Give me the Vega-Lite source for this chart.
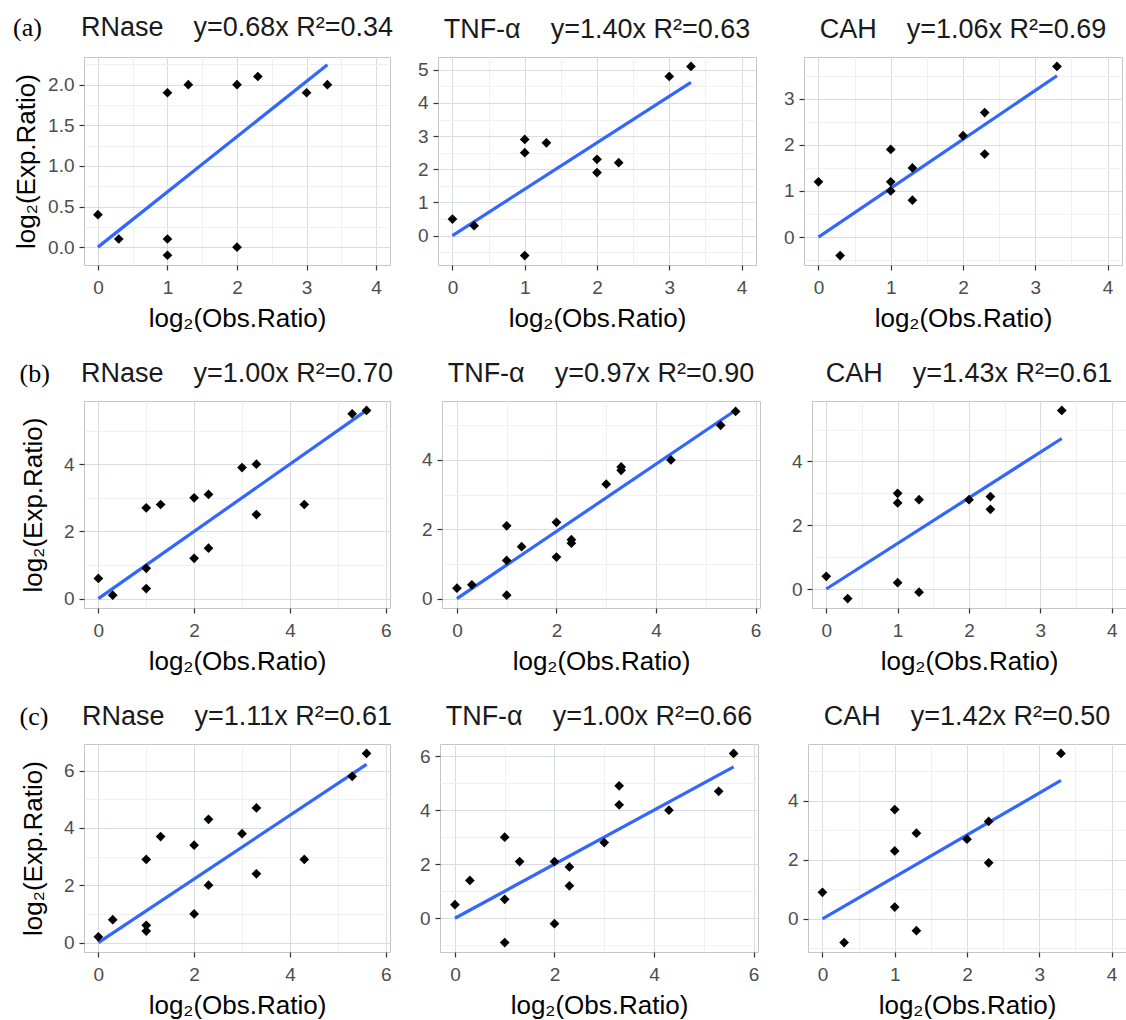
{
  "$schema": "https://vega.github.io/schema/vega-lite/v6.json",
  "padding": {"left": 13, "top": 13, "right": 2, "bottom": 1},
  "background": "white",
  "datasets": {
    "pts": [
      {"p": "a1", "x": 0, "y": 0.4}, {"p": "a1", "x": 0.3, "y": 0.1}, {"p": "a1", "x": 1, "y": 1.9}, {"p": "a1", "x": 1, "y": 0.1}, {"p": "a1", "x": 1, "y": -0.1}, {"p": "a1", "x": 1.3, "y": 2.0}, {"p": "a1", "x": 2, "y": 2.0}, {"p": "a1", "x": 2, "y": 0.0}, {"p": "a1", "x": 2.3, "y": 2.1}, {"p": "a1", "x": 3, "y": 1.9}, {"p": "a1", "x": 3.3, "y": 2.0},
      {"p": "a2", "x": 0, "y": 0.5}, {"p": "a2", "x": 0.3, "y": 0.3}, {"p": "a2", "x": 1, "y": 2.9}, {"p": "a2", "x": 1, "y": 2.5}, {"p": "a2", "x": 1, "y": -0.6}, {"p": "a2", "x": 1.3, "y": 2.8}, {"p": "a2", "x": 2, "y": 2.3}, {"p": "a2", "x": 2, "y": 1.9}, {"p": "a2", "x": 2.3, "y": 2.2}, {"p": "a2", "x": 3, "y": 4.8}, {"p": "a2", "x": 3.3, "y": 5.1},
      {"p": "a3", "x": 0, "y": 1.2}, {"p": "a3", "x": 0.3, "y": -0.4}, {"p": "a3", "x": 1, "y": 1.9}, {"p": "a3", "x": 1, "y": 1.2}, {"p": "a3", "x": 1, "y": 1.0}, {"p": "a3", "x": 1.3, "y": 1.5}, {"p": "a3", "x": 1.3, "y": 0.8}, {"p": "a3", "x": 2, "y": 2.2}, {"p": "a3", "x": 2.3, "y": 2.7}, {"p": "a3", "x": 2.3, "y": 1.8}, {"p": "a3", "x": 3.3, "y": 3.7},
      {"p": "b1", "x": 0, "y": 0.6}, {"p": "b1", "x": 0.3, "y": 0.1}, {"p": "b1", "x": 1, "y": 2.7}, {"p": "b1", "x": 1, "y": 0.9}, {"p": "b1", "x": 1, "y": 0.3}, {"p": "b1", "x": 1.3, "y": 2.8}, {"p": "b1", "x": 2, "y": 3.0}, {"p": "b1", "x": 2, "y": 1.2}, {"p": "b1", "x": 2.3, "y": 3.1}, {"p": "b1", "x": 2.3, "y": 1.5}, {"p": "b1", "x": 3, "y": 3.9}, {"p": "b1", "x": 3.3, "y": 4.0}, {"p": "b1", "x": 3.3, "y": 2.5}, {"p": "b1", "x": 4.3, "y": 2.8}, {"p": "b1", "x": 5.3, "y": 5.5}, {"p": "b1", "x": 5.6, "y": 5.6},
      {"p": "b2", "x": 0, "y": 0.3}, {"p": "b2", "x": 0.3, "y": 0.4}, {"p": "b2", "x": 1, "y": 2.1}, {"p": "b2", "x": 1, "y": 1.1}, {"p": "b2", "x": 1, "y": 0.1}, {"p": "b2", "x": 1.3, "y": 1.5}, {"p": "b2", "x": 2, "y": 2.2}, {"p": "b2", "x": 2, "y": 1.2}, {"p": "b2", "x": 2.3, "y": 1.7}, {"p": "b2", "x": 2.3, "y": 1.6}, {"p": "b2", "x": 3, "y": 3.3}, {"p": "b2", "x": 3.3, "y": 3.8}, {"p": "b2", "x": 3.3, "y": 3.7}, {"p": "b2", "x": 4.3, "y": 4.0}, {"p": "b2", "x": 5.3, "y": 5.0}, {"p": "b2", "x": 5.6, "y": 5.4},
      {"p": "b3", "x": 0, "y": 0.4}, {"p": "b3", "x": 0.3, "y": -0.3}, {"p": "b3", "x": 1, "y": 3.0}, {"p": "b3", "x": 1, "y": 2.7}, {"p": "b3", "x": 1, "y": 0.2}, {"p": "b3", "x": 1.3, "y": 2.8}, {"p": "b3", "x": 1.3, "y": -0.1}, {"p": "b3", "x": 2, "y": 2.8}, {"p": "b3", "x": 2.3, "y": 2.9}, {"p": "b3", "x": 2.3, "y": 2.5}, {"p": "b3", "x": 3.3, "y": 5.6},
      {"p": "c1", "x": 0, "y": 0.2}, {"p": "c1", "x": 0.3, "y": 0.8}, {"p": "c1", "x": 1, "y": 2.9}, {"p": "c1", "x": 1, "y": 0.6}, {"p": "c1", "x": 1, "y": 0.4}, {"p": "c1", "x": 1.3, "y": 3.7}, {"p": "c1", "x": 2, "y": 3.4}, {"p": "c1", "x": 2, "y": 1.0}, {"p": "c1", "x": 2.3, "y": 4.3}, {"p": "c1", "x": 2.3, "y": 2.0}, {"p": "c1", "x": 3, "y": 3.8}, {"p": "c1", "x": 3.3, "y": 4.7}, {"p": "c1", "x": 3.3, "y": 2.4}, {"p": "c1", "x": 4.3, "y": 2.9}, {"p": "c1", "x": 5.3, "y": 5.8}, {"p": "c1", "x": 5.6, "y": 6.6},
      {"p": "c2", "x": 0, "y": 0.5}, {"p": "c2", "x": 0.3, "y": 1.4}, {"p": "c2", "x": 1, "y": 3.0}, {"p": "c2", "x": 1, "y": 0.7}, {"p": "c2", "x": 1, "y": -0.9}, {"p": "c2", "x": 1.3, "y": 2.1}, {"p": "c2", "x": 2, "y": 2.1}, {"p": "c2", "x": 2, "y": -0.2}, {"p": "c2", "x": 2.3, "y": 1.9}, {"p": "c2", "x": 2.3, "y": 1.2}, {"p": "c2", "x": 3, "y": 2.8}, {"p": "c2", "x": 3.3, "y": 4.9}, {"p": "c2", "x": 3.3, "y": 4.2}, {"p": "c2", "x": 4.3, "y": 4.0}, {"p": "c2", "x": 5.3, "y": 4.7}, {"p": "c2", "x": 5.6, "y": 6.1},
      {"p": "c3", "x": 0, "y": 0.9}, {"p": "c3", "x": 0.3, "y": -0.8}, {"p": "c3", "x": 1, "y": 3.7}, {"p": "c3", "x": 1, "y": 2.3}, {"p": "c3", "x": 1, "y": 0.4}, {"p": "c3", "x": 1.3, "y": 2.9}, {"p": "c3", "x": 1.3, "y": -0.4}, {"p": "c3", "x": 2, "y": 2.7}, {"p": "c3", "x": 2.3, "y": 3.3}, {"p": "c3", "x": 2.3, "y": 1.9}, {"p": "c3", "x": 3.3, "y": 5.6}
    ],
    "fit": [
      {"p": "a1", "x": 0, "y": 0}, {"p": "a1", "x": 3.3, "y": 2.244},
      {"p": "a2", "x": 0, "y": 0}, {"p": "a2", "x": 3.3, "y": 4.62},
      {"p": "a3", "x": 0, "y": 0}, {"p": "a3", "x": 3.3, "y": 3.498},
      {"p": "b1", "x": 0, "y": 0}, {"p": "b1", "x": 5.6, "y": 5.6},
      {"p": "b2", "x": 0, "y": 0}, {"p": "b2", "x": 5.6, "y": 5.432},
      {"p": "b3", "x": 0, "y": 0}, {"p": "b3", "x": 3.3, "y": 4.719},
      {"p": "c1", "x": 0, "y": 0}, {"p": "c1", "x": 5.6, "y": 6.216},
      {"p": "c2", "x": 0, "y": 0}, {"p": "c2", "x": 5.6, "y": 5.6},
      {"p": "c3", "x": 0, "y": 0}, {"p": "c3", "x": 3.3, "y": 4.686}
    ]
  },
  "vconcat": [
    {
      "bounds": "flush",
      "spacing": 48,
      "title": {"text": "(a)", "anchor": "start", "frame": "bounds", "font": "Liberation Serif", "fontSize": 26, "offset": -27, "color": "#000000"},
      "hconcat": [
        {
          "width": 306, "height": 208,
          "title": {"text": "RNase\u00a0\u00a0\u00a0 y=0.68x R²=0.34"},
          "encoding": {
            "x": {"field": "x", "type": "quantitative", "scale": {"domain": [-0.2, 4.2], "nice": false, "zero": false},
              "axis": {"title": "log₂(Obs.Ratio)", "format": ".0f", "values": [0, 0.5, 1, 1.5, 2, 2.5, 3, 3.5, 4], "labelExpr": "datum.value % 1 === 0 ? datum.label : ''",
                "gridColor": {"condition": {"test": "datum.value % 1 !== 0", "value": "#eef0f3"}, "value": "#d9dce3"},
                "tickOpacity": {"condition": {"test": "datum.value % 1 !== 0", "value": 0}, "value": 1}}},
            "y": {"field": "y", "type": "quantitative", "scale": {"domain": [-0.22, 2.34], "nice": false, "zero": false},
              "axis": {"title": "log₂(Exp.Ratio)", "format": ".1f", "values": [0, 0.25, 0.5, 0.75, 1, 1.25, 1.5, 1.75, 2, 2.25], "labelExpr": "datum.value % 0.5 === 0 ? datum.label : ''",
                "gridColor": {"condition": {"test": "datum.value % 0.5 !== 0", "value": "#eef0f3"}, "value": "#d9dce3"},
                "tickOpacity": {"condition": {"test": "datum.value % 0.5 !== 0", "value": 0}, "value": 1}}}
          },
          "layer": [
            {"data": {"name": "fit"}, "transform": [{"filter": "datum.p === 'a1'"}], "mark": {"type": "line", "color": "#3366FF", "strokeWidth": 3.2}, "encoding": {}},
            {"data": {"name": "pts"}, "transform": [{"filter": "datum.p === 'a1'"}], "mark": {"type": "point", "shape": "diamond", "filled": true, "color": "#000000", "opacity": 1, "size": 95}}
          ]
        },
        {
          "width": 318, "height": 208,
          "title": {"text": "TNF-α\u00a0\u00a0\u00a0 y=1.40x R²=0.63"},
          "encoding": {
            "x": {"field": "x", "type": "quantitative", "scale": {"domain": [-0.2, 4.2], "nice": false, "zero": false},
              "axis": {"title": "log₂(Obs.Ratio)", "format": ".0f", "values": [0, 0.5, 1, 1.5, 2, 2.5, 3, 3.5, 4], "labelExpr": "datum.value % 1 === 0 ? datum.label : ''",
                "gridColor": {"condition": {"test": "datum.value % 1 !== 0", "value": "#eef0f3"}, "value": "#d9dce3"},
                "tickOpacity": {"condition": {"test": "datum.value % 1 !== 0", "value": 0}, "value": 1}}},
            "y": {"field": "y", "type": "quantitative", "scale": {"domain": [-0.885, 5.385], "nice": false, "zero": false},
              "axis": {"title": null, "format": ".0f", "values": [-0.5, 0, 0.5, 1, 1.5, 2, 2.5, 3, 3.5, 4, 4.5, 5], "labelExpr": "datum.value % 1 === 0 ? datum.label : ''",
                "gridColor": {"condition": {"test": "datum.value % 1 !== 0", "value": "#eef0f3"}, "value": "#d9dce3"},
                "tickOpacity": {"condition": {"test": "datum.value % 1 !== 0", "value": 0}, "value": 1}}}
          },
          "layer": [
            {"data": {"name": "fit"}, "transform": [{"filter": "datum.p === 'a2'"}], "mark": {"type": "line", "color": "#3366FF", "strokeWidth": 3.2}, "encoding": {}},
            {"data": {"name": "pts"}, "transform": [{"filter": "datum.p === 'a2'"}], "mark": {"type": "point", "shape": "diamond", "filled": true, "color": "#000000", "opacity": 1, "size": 95}}
          ]
        },
        {
          "width": 318, "height": 208,
          "title": {"text": "CAH\u00a0\u00a0\u00a0 y=1.06x R²=0.69"},
          "encoding": {
            "x": {"field": "x", "type": "quantitative", "scale": {"domain": [-0.2, 4.2], "nice": false, "zero": false},
              "axis": {"title": "log₂(Obs.Ratio)", "format": ".0f", "values": [0, 0.5, 1, 1.5, 2, 2.5, 3, 3.5, 4], "labelExpr": "datum.value % 1 === 0 ? datum.label : ''",
                "gridColor": {"condition": {"test": "datum.value % 1 !== 0", "value": "#eef0f3"}, "value": "#d9dce3"},
                "tickOpacity": {"condition": {"test": "datum.value % 1 !== 0", "value": 0}, "value": 1}}},
            "y": {"field": "y", "type": "quantitative", "scale": {"domain": [-0.605, 3.905], "nice": false, "zero": false},
              "axis": {"title": null, "format": ".0f", "values": [-0.5, 0, 0.5, 1, 1.5, 2, 2.5, 3, 3.5], "labelExpr": "datum.value % 1 === 0 ? datum.label : ''",
                "gridColor": {"condition": {"test": "datum.value % 1 !== 0", "value": "#eef0f3"}, "value": "#d9dce3"},
                "tickOpacity": {"condition": {"test": "datum.value % 1 !== 0", "value": 0}, "value": 1}}}
          },
          "layer": [
            {"data": {"name": "fit"}, "transform": [{"filter": "datum.p === 'a3'"}], "mark": {"type": "line", "color": "#3366FF", "strokeWidth": 3.2}, "encoding": {}},
            {"data": {"name": "pts"}, "transform": [{"filter": "datum.p === 'a3'"}], "mark": {"type": "point", "shape": "diamond", "filled": true, "color": "#000000", "opacity": 1, "size": 95}}
          ]
        }
      ]
    },
    {
      "bounds": "flush",
      "spacing": 52,
      "title": {"text": "(b)", "anchor": "start", "frame": "bounds", "font": "Liberation Serif", "fontSize": 26, "offset": -27, "color": "#000000"},
      "hconcat": [
        {
          "width": 306, "height": 207,
          "title": {"text": "RNase\u00a0\u00a0\u00a0 y=1.00x R²=0.70"},
          "encoding": {
            "x": {"field": "x", "type": "quantitative", "scale": {"domain": [-0.3, 6.09], "nice": false, "zero": false},
              "axis": {"title": "log₂(Obs.Ratio)", "format": ".0f", "values": [0, 1, 2, 3, 4, 5, 6], "labelExpr": "datum.value % 2 === 0 ? datum.label : ''",
                "gridColor": {"condition": {"test": "datum.value % 2 !== 0", "value": "#eef0f3"}, "value": "#d9dce3"},
                "tickOpacity": {"condition": {"test": "datum.value % 2 !== 0", "value": 0}, "value": 1}}},
            "y": {"field": "y", "type": "quantitative", "scale": {"domain": [-0.28, 5.88], "nice": false, "zero": false},
              "axis": {"title": "log₂(Exp.Ratio)", "minExtent": 30, "format": ".0f", "values": [0, 1, 2, 3, 4, 5], "labelExpr": "datum.value % 2 === 0 ? datum.label : ''",
                "gridColor": {"condition": {"test": "datum.value % 2 !== 0", "value": "#eef0f3"}, "value": "#d9dce3"},
                "tickOpacity": {"condition": {"test": "datum.value % 2 !== 0", "value": 0}, "value": 1}}}
          },
          "layer": [
            {"data": {"name": "fit"}, "transform": [{"filter": "datum.p === 'b1'"}], "mark": {"type": "line", "color": "#3366FF", "strokeWidth": 3.2}, "encoding": {}},
            {"data": {"name": "pts"}, "transform": [{"filter": "datum.p === 'b1'"}], "mark": {"type": "point", "shape": "diamond", "filled": true, "color": "#000000", "opacity": 1, "size": 95}}
          ]
        },
        {
          "width": 318, "height": 207,
          "title": {"text": "TNF-α\u00a0\u00a0\u00a0 y=0.97x R²=0.90"},
          "encoding": {
            "x": {"field": "x", "type": "quantitative", "scale": {"domain": [-0.3, 6.09], "nice": false, "zero": false},
              "axis": {"title": "log₂(Obs.Ratio)", "format": ".0f", "values": [0, 1, 2, 3, 4, 5, 6], "labelExpr": "datum.value % 2 === 0 ? datum.label : ''",
                "gridColor": {"condition": {"test": "datum.value % 2 !== 0", "value": "#eef0f3"}, "value": "#d9dce3"},
                "tickOpacity": {"condition": {"test": "datum.value % 2 !== 0", "value": 0}, "value": 1}}},
            "y": {"field": "y", "type": "quantitative", "scale": {"domain": [-0.27, 5.7], "nice": false, "zero": false},
              "axis": {"title": null, "format": ".0f", "values": [0, 1, 2, 3, 4, 5], "labelExpr": "datum.value % 2 === 0 ? datum.label : ''",
                "gridColor": {"condition": {"test": "datum.value % 2 !== 0", "value": "#eef0f3"}, "value": "#d9dce3"},
                "tickOpacity": {"condition": {"test": "datum.value % 2 !== 0", "value": 0}, "value": 1}}}
          },
          "layer": [
            {"data": {"name": "fit"}, "transform": [{"filter": "datum.p === 'b2'"}], "mark": {"type": "line", "color": "#3366FF", "strokeWidth": 3.2}, "encoding": {}},
            {"data": {"name": "pts"}, "transform": [{"filter": "datum.p === 'b2'"}], "mark": {"type": "point", "shape": "diamond", "filled": true, "color": "#000000", "opacity": 1, "size": 95}}
          ]
        },
        {
          "width": 314, "height": 207,
          "title": {"text": "CAH\u00a0\u00a0\u00a0 y=1.43x R²=0.61"},
          "encoding": {
            "x": {"field": "x", "type": "quantitative", "scale": {"domain": [-0.2, 4.2], "nice": false, "zero": false},
              "axis": {"title": "log₂(Obs.Ratio)", "format": ".0f", "values": [0, 0.5, 1, 1.5, 2, 2.5, 3, 3.5, 4], "labelExpr": "datum.value % 1 === 0 ? datum.label : ''",
                "gridColor": {"condition": {"test": "datum.value % 1 !== 0", "value": "#eef0f3"}, "value": "#d9dce3"},
                "tickOpacity": {"condition": {"test": "datum.value % 1 !== 0", "value": 0}, "value": 1}}},
            "y": {"field": "y", "type": "quantitative", "scale": {"domain": [-0.595, 5.895], "nice": false, "zero": false},
              "axis": {"title": null, "format": ".0f", "values": [0, 1, 2, 3, 4, 5], "labelExpr": "datum.value % 2 === 0 ? datum.label : ''",
                "gridColor": {"condition": {"test": "datum.value % 2 !== 0", "value": "#eef0f3"}, "value": "#d9dce3"},
                "tickOpacity": {"condition": {"test": "datum.value % 2 !== 0", "value": 0}, "value": 1}}}
          },
          "layer": [
            {"data": {"name": "fit"}, "transform": [{"filter": "datum.p === 'b3'"}], "mark": {"type": "line", "color": "#3366FF", "strokeWidth": 3.2}, "encoding": {}},
            {"data": {"name": "pts"}, "transform": [{"filter": "datum.p === 'b3'"}], "mark": {"type": "point", "shape": "diamond", "filled": true, "color": "#000000", "opacity": 1, "size": 95}}
          ]
        }
      ]
    },
    {
      "bounds": "flush",
      "spacing": 50,
      "title": {"text": "(c)", "anchor": "start", "frame": "bounds", "font": "Liberation Serif", "fontSize": 26, "offset": -27, "color": "#000000"},
      "hconcat": [
        {
          "width": 306, "height": 208,
          "title": {"text": "RNase\u00a0\u00a0\u00a0 y=1.11x R²=0.61"},
          "encoding": {
            "x": {"field": "x", "type": "quantitative", "scale": {"domain": [-0.3, 6.09], "nice": false, "zero": false},
              "axis": {"title": "log₂(Obs.Ratio)", "format": ".0f", "values": [0, 1, 2, 3, 4, 5, 6], "labelExpr": "datum.value % 2 === 0 ? datum.label : ''",
                "gridColor": {"condition": {"test": "datum.value % 2 !== 0", "value": "#eef0f3"}, "value": "#d9dce3"},
                "tickOpacity": {"condition": {"test": "datum.value % 2 !== 0", "value": 0}, "value": 1}}},
            "y": {"field": "y", "type": "quantitative", "scale": {"domain": [-0.33, 6.93], "nice": false, "zero": false},
              "axis": {"title": "log₂(Exp.Ratio)", "minExtent": 30, "format": ".0f", "values": [0, 1, 2, 3, 4, 5, 6], "labelExpr": "datum.value % 2 === 0 ? datum.label : ''",
                "gridColor": {"condition": {"test": "datum.value % 2 !== 0", "value": "#eef0f3"}, "value": "#d9dce3"},
                "tickOpacity": {"condition": {"test": "datum.value % 2 !== 0", "value": 0}, "value": 1}}}
          },
          "layer": [
            {"data": {"name": "fit"}, "transform": [{"filter": "datum.p === 'c1'"}], "mark": {"type": "line", "color": "#3366FF", "strokeWidth": 3.2}, "encoding": {}},
            {"data": {"name": "pts"}, "transform": [{"filter": "datum.p === 'c1'"}], "mark": {"type": "point", "shape": "diamond", "filled": true, "color": "#000000", "opacity": 1, "size": 95}}
          ]
        },
        {
          "width": 318, "height": 208,
          "title": {"text": "TNF-α\u00a0\u00a0\u00a0 y=1.00x R²=0.66"},
          "encoding": {
            "x": {"field": "x", "type": "quantitative", "scale": {"domain": [-0.3, 6.09], "nice": false, "zero": false},
              "axis": {"title": "log₂(Obs.Ratio)", "format": ".0f", "values": [0, 1, 2, 3, 4, 5, 6], "labelExpr": "datum.value % 2 === 0 ? datum.label : ''",
                "gridColor": {"condition": {"test": "datum.value % 2 !== 0", "value": "#eef0f3"}, "value": "#d9dce3"},
                "tickOpacity": {"condition": {"test": "datum.value % 2 !== 0", "value": 0}, "value": 1}}},
            "y": {"field": "y", "type": "quantitative", "scale": {"domain": [-1.25, 6.45], "nice": false, "zero": false},
              "axis": {"title": null, "format": ".0f", "values": [-1, 0, 1, 2, 3, 4, 5, 6], "labelExpr": "datum.value % 2 === 0 ? datum.label : ''",
                "gridColor": {"condition": {"test": "datum.value % 2 !== 0", "value": "#eef0f3"}, "value": "#d9dce3"},
                "tickOpacity": {"condition": {"test": "datum.value % 2 !== 0", "value": 0}, "value": 1}}}
          },
          "layer": [
            {"data": {"name": "fit"}, "transform": [{"filter": "datum.p === 'c2'"}], "mark": {"type": "line", "color": "#3366FF", "strokeWidth": 3.2}, "encoding": {}},
            {"data": {"name": "pts"}, "transform": [{"filter": "datum.p === 'c2'"}], "mark": {"type": "point", "shape": "diamond", "filled": true, "color": "#000000", "opacity": 1, "size": 95}}
          ]
        },
        {
          "width": 318, "height": 208,
          "title": {"text": "CAH\u00a0\u00a0\u00a0 y=1.42x R²=0.50"},
          "encoding": {
            "x": {"field": "x", "type": "quantitative", "scale": {"domain": [-0.2, 4.2], "nice": false, "zero": false},
              "axis": {"title": "log₂(Obs.Ratio)", "format": ".0f", "values": [0, 0.5, 1, 1.5, 2, 2.5, 3, 3.5, 4], "labelExpr": "datum.value % 1 === 0 ? datum.label : ''",
                "gridColor": {"condition": {"test": "datum.value % 1 !== 0", "value": "#eef0f3"}, "value": "#d9dce3"},
                "tickOpacity": {"condition": {"test": "datum.value % 1 !== 0", "value": 0}, "value": 1}}},
            "y": {"field": "y", "type": "quantitative", "scale": {"domain": [-1.12, 5.92], "nice": false, "zero": false},
              "axis": {"title": null, "format": ".0f", "values": [-1, 0, 1, 2, 3, 4, 5], "labelExpr": "datum.value % 2 === 0 ? datum.label : ''",
                "gridColor": {"condition": {"test": "datum.value % 2 !== 0", "value": "#eef0f3"}, "value": "#d9dce3"},
                "tickOpacity": {"condition": {"test": "datum.value % 2 !== 0", "value": 0}, "value": 1}}}
          },
          "layer": [
            {"data": {"name": "fit"}, "transform": [{"filter": "datum.p === 'c3'"}], "mark": {"type": "line", "color": "#3366FF", "strokeWidth": 3.2}, "encoding": {}},
            {"data": {"name": "pts"}, "transform": [{"filter": "datum.p === 'c3'"}], "mark": {"type": "point", "shape": "diamond", "filled": true, "color": "#000000", "opacity": 1, "size": 95}}
          ]
        }
      ]
    }
  ],
  "spacing": 27,
  "config": {
    "font": "Liberation Sans",
    "view": {"stroke": "#c6c6c6", "strokeWidth": 1},
    "axis": {"domain": false, "tickColor": "#333333", "tickSize": 5, "tickWidth": 1.2, "labelColor": "#4d4d4d", "labelFont": "Liberation Sans", "labelFontSize": 19, "labelFlush": false, "labelOverlap": false, "titleFont": "Liberation Sans", "titleFontSize": 26, "titleFontWeight": "normal", "titleColor": "#000000", "gridWidth": 1},
    "axisX": {"titlePadding": 8, "labelPadding": 8},
    "axisY": {"titlePadding": 8, "labelPadding": 5},
    "title": {"font": "Liberation Sans", "fontSize": 27, "fontWeight": "normal", "color": "#1a1a1a", "offset": 13}
  }
}
